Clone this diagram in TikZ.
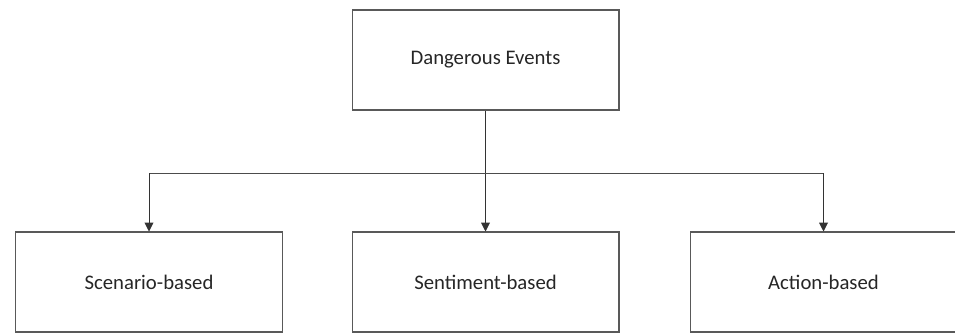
\documentclass[tikz,border=0pt]{standalone}
\usepackage{fontspec}
\setmainfont{Carlito}
\usetikzlibrary{arrows.meta}

\begin{document}
\begin{tikzpicture}[x=0.02cm, y=-0.02cm,
	box/.style={draw=black!65, line width=0.6pt, minimum width=5.34cm, minimum height=2cm, text=black!85, font=\fontsize{11.8}{14}\selectfont},
	arrow/.style={draw=black!80, line width=0.5pt, -{Triangle[length=5pt, width=5pt]}}]
	\useasboundingbox (0,0) rectangle (955,332);

	\node[box] (events) at (485.5,60) {Dangerous Events};
	\node[box] (scenario) at (149,282) {Scenario-based};
	\node[box] (sentiment) at (485.5,282) {Sentiment-based};
	\node[box] (action) at (823.5,282) {Action-based};

	\coordinate (bus) at (0,173);
	\draw[arrow] (events.south) -- (sentiment.north);
	\draw[draw=black!70, line width=0.5pt] (bus -| scenario.north) -- (bus -| action.north);
	\foreach \n in {scenario, action}
		\draw[arrow] (bus -| \n.north) -- (\n.north);
\end{tikzpicture}
\end{document}
